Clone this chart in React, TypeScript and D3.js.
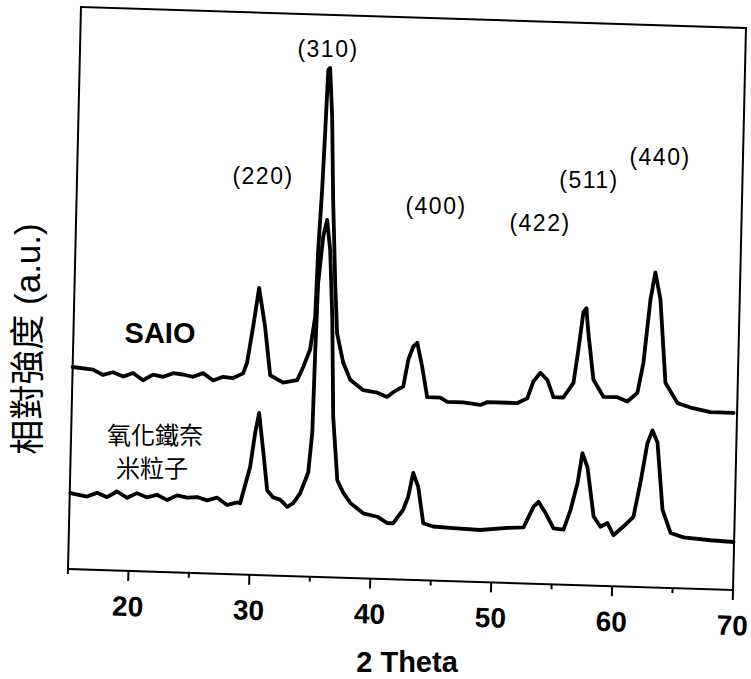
import React from "react";
import * as d3 from "d3";

// XRD patterns: [2θ (deg), relative intensity (a.u.)]
const saioPattern: [number, number][] = [
  [15.0, 202], [16.69, 200], [17.52, 195], [18.35, 198], [19.19, 194], [20.0, 198],
  [20.84, 191], [21.66, 197], [22.49, 195], [23.31, 199], [24.14, 198], [24.98, 196],
  [25.79, 200], [26.63, 193], [27.46, 197], [28.28, 196], [29.1, 201], [29.41, 212],
  [29.84, 248], [30.26, 287], [30.83, 248], [31.34, 200], [32.43, 193], [33.58, 196],
  [34.05, 209], [34.59, 227], [34.95, 260], [35.07, 327], [35.28, 387], [35.42, 444],
  [35.56, 507], [35.71, 509], [35.97, 460], [36.21, 377], [36.54, 294], [36.79, 244],
  [37.35, 215], [37.96, 198], [39.06, 188], [40.22, 186], [41.05, 182], [41.54, 187],
  [42.36, 193], [42.73, 220], [43.11, 233], [43.44, 237], [43.89, 213], [44.36, 183],
  [45.44, 183], [46.03, 179], [47.35, 179], [48.76, 177], [49.33, 180], [51.0, 180],
  [51.82, 180], [52.63, 185], [53.1, 202], [53.67, 211], [54.26, 204], [54.79, 187],
  [55.61, 187], [56.42, 202], [56.76, 235], [57.11, 273], [57.35, 277], [57.56, 252],
  [58.06, 206], [58.92, 189], [60.08, 189], [60.91, 185], [61.72, 194], [62.16, 224],
  [62.62, 287], [62.98, 315], [63.45, 288], [64.02, 205], [65.06, 185], [66.14, 181],
  [67.8, 177], [69.71, 177],
];

const nanoPattern: [number, number][] = [
  [15.05, 76], [16.43, 73], [17.25, 77], [18.09, 73], [18.9, 79], [19.75, 73],
  [20.56, 78], [21.4, 74], [22.22, 77], [23.06, 72], [23.88, 77], [24.71, 75],
  [25.53, 76], [26.36, 73], [27.19, 76], [28.03, 69], [28.85, 72], [29.1, 71],
  [29.86, 108], [30.21, 142], [30.5, 162], [30.9, 125], [31.31, 85], [31.82, 78],
  [32.4, 76], [33.0, 69], [33.49, 73], [34.04, 83], [34.67, 104], [34.93, 144],
  [35.02, 227], [35.13, 294], [35.46, 340], [35.75, 357], [36.06, 327], [36.36, 260],
  [36.63, 160], [37.09, 97], [37.6, 85], [38.2, 75], [39.29, 65], [40.46, 62],
  [41.3, 56], [41.79, 56], [42.59, 70], [42.98, 83], [43.35, 107], [43.79, 93],
  [44.27, 57], [45.1, 54], [46.76, 53], [48.99, 52], [51.24, 55], [52.57, 56],
  [53.36, 77], [53.76, 82], [54.36, 71], [55.05, 56], [55.88, 55], [56.42, 75],
  [56.95, 102], [57.3, 132], [57.74, 118], [58.34, 69], [58.92, 59], [59.49, 63],
  [60.01, 51], [60.82, 60], [61.63, 70], [62.14, 104], [62.65, 144], [63.04, 157],
  [63.48, 145], [64.02, 78], [64.73, 55], [65.81, 51], [68.04, 49], [69.95, 48],
];

const majorTicks = [20, 30, 40, 50, 60, 70];
const minorTicks = [15, 25, 35, 45, 55, 65];
const peakLabels = ["(220)", "(310)", "(400)", "(422)", "(511)", "(440)"];
const sampleNames = ["SAIO", "氧化鐵奈", "米粒子"];
const xTitle = "2 Theta";
const yTitle = "相對強度 (a.u.)";

const W = 751;
const H = 679;
const L = 68, R = 733, T = 7, B = 569;

const x = d3.scaleLinear().domain([15, 70]).range([L, R]);
const y = d3.scaleLinear().domain([0, 562]).range([B, T]);
const line = d3
  .line<[number, number]>()
  .x((d) => x(d[0]))
  .y((d) => y(d[1]));

const FONT = "'Liberation Sans', Arial, 'Noto Sans CJK TC', sans-serif";
const CJK = "'Noto Sans CJK TC', 'Liberation Sans', sans-serif";

// approximate placement of the hkl labels (image pixels)
const peakLabelPos: [number, number][] = [
  [263, 184], [328, 57], [436, 214], [540, 231], [589, 188], [660, 165],
];

export default function App() {
  return (
    <svg
      width={W}
      height={H}
      viewBox={`0 0 ${W} ${H}`}
      style={{ position: "absolute", left: 0, top: 0, background: "#fff" }}
    >
      <rect width={W} height={H} fill="#fff" />
      <g transform="matrix(1,0.0316,-0.0231,1,13.14,-2.15)">
        <rect x={L} y={T} width={R - L} height={B - T} fill="none" stroke="#000" strokeWidth={2} />
        {majorTicks.map((t) => (
          <g key={"M" + t} transform={`translate(${x(t)},${B})`}>
            <line y2={10} stroke="#000" strokeWidth={2} />
            <text
              y={45}
              textAnchor="middle"
              fontFamily={FONT}
              fontWeight="bold"
              fontSize={28}
              fill="#000"
            >
              {t}
            </text>
          </g>
        ))}
        {minorTicks.map((t) => (
          <line
            key={"m" + t}
            x1={x(t)}
            x2={x(t)}
            y1={B}
            y2={B + 5}
            stroke="#000"
            strokeWidth={2}
          />
        ))}
        <path
          d={line(saioPattern) || ""}
          fill="none"
          stroke="#000"
          strokeWidth={3.8}
          strokeLinejoin="round"
          strokeLinecap="round"
        />
        <path
          d={line(nanoPattern) || ""}
          fill="none"
          stroke="#000"
          strokeWidth={3.8}
          strokeLinejoin="round"
          strokeLinecap="round"
        />
      </g>

      {peakLabels.map((lab, i) => (
        <text
          key={lab}
          x={peakLabelPos[i][0]}
          y={peakLabelPos[i][1]}
          textAnchor="middle"
          fontFamily={FONT}
          fontSize={23}
          letterSpacing={1.5}
          fill="#000"
        >
          {lab}
        </text>
      ))}

      <text x={160} y={343} textAnchor="middle" fontFamily={FONT} fontWeight="bold" fontSize={29} fill="#000">
        {sampleNames[0]}
      </text>
      <text x={155} y={444} textAnchor="middle" fontFamily={CJK} fontSize={24} fill="#000">
        {sampleNames[1]}
      </text>
      <text x={152} y={477} textAnchor="middle" fontFamily={CJK} fontSize={24} fill="#000">
        {sampleNames[2]}
      </text>

      <text x={407} y={672} textAnchor="middle" fontFamily={FONT} fontWeight="bold" fontSize={29} fill="#000">
        {xTitle}
      </text>
      <text
        transform="translate(40,339) rotate(-90)"
        textAnchor="middle"
        fontFamily={FONT}
        fontSize={35}
        fill="#000"
      >
        {yTitle}
      </text>
    </svg>
  );
}
